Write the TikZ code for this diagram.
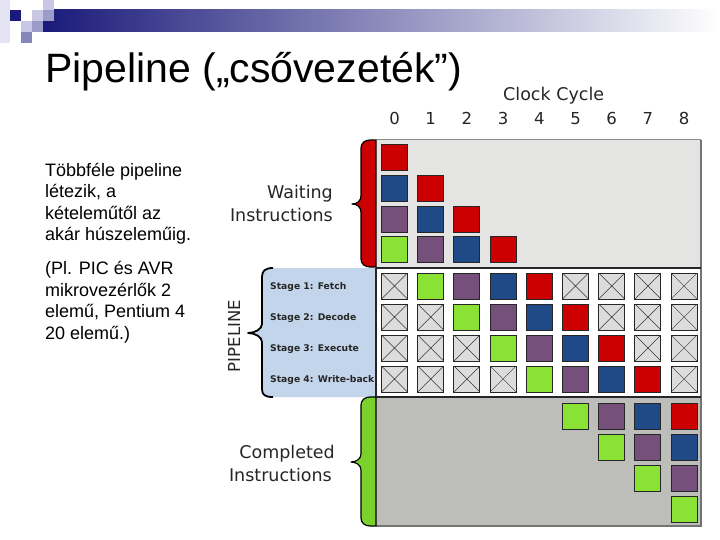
\documentclass[tikz,border=0pt]{standalone}
\usepackage{fontspec}
\setmainfont{Liberation Sans}
\newfontfamily\dejavu{DejaVu Sans}
\definecolor{tred}{HTML}{CC0000}
\definecolor{tblue}{HTML}{204A87}
\definecolor{tpurple}{HTML}{75507B}
\definecolor{tgreen}{HTML}{8AE234}
\definecolor{bgreen}{HTML}{7BD12B}
\definecolor{navy}{HTML}{1A1A7A}
\definecolor{lav1}{HTML}{E4E4F2}
\definecolor{lav2}{HTML}{C8C8E6}
\definecolor{lav3}{HTML}{9C9CCA}
\definecolor{lav4}{HTML}{8686BC}
\definecolor{wgray}{HTML}{E4E4E2}
\definecolor{cgray}{HTML}{BDBEB9}
\definecolor{lblue}{HTML}{C3D5EA}
\definecolor{xgray}{HTML}{DCDCDC}
\begin{document}
\begin{tikzpicture}[x=1pt,y=-1pt,
  sq/.style={draw=black!85, line width=0.9pt, minimum size=26pt, inner sep=0pt, outer sep=0pt},
  xbox/.style={sq, fill=xgray, path picture={\draw[black!80, line width=0.5pt]
      (path picture bounding box.north west) -- (path picture bounding box.south east)
      (path picture bounding box.north east) -- (path picture bounding box.south west);}},
  body/.style={anchor=base west, inner sep=0pt, font=\fontsize{18}{21.5}\selectfont},
  lab/.style={anchor=base east, inner sep=0pt, font=\dejavu\fontsize{17.5}{21}\selectfont, text=black!85},
  stagelab/.style={anchor=base west, inner sep=0pt, font=\dejavu\bfseries\fontsize{9.2}{11}\selectfont, text=black!85},
  num/.style={anchor=base, inner sep=0pt, font=\dejavu\fontsize{16.5}{20}\selectfont, text=black!85}]
\useasboundingbox (0,0) rectangle (720,540);
\fill[white] (0,0) rectangle (720,540);
% top decoration
\shade[left color=navy, right color=white] (43,10) rectangle (720,32);
\fill[lav1] (0,0) rectangle (10,43);
\fill[navy] (10,10) rectangle (21,21);
\fill[lav2] (21,21) rectangle (32,32);
\fill[lav4] (21,32) rectangle (32,43);
\fill[lav2] (32,10) rectangle (43,21);
\fill[lav3] (32,21) rectangle (43,32);
\fill[lav2] (43,0) rectangle (54,10);
\fill[lav3] (43,10) rectangle (54,21);
% title
\node[anchor=base west, inner sep=0pt, font=\fontsize{41}{48}\selectfont] (title) at (45,83) {Pipeline („csővezeték”)};
% left text
\node[body] (t1) at (45,176.5) {Többféle pipeline};
\node[body] (t2) at (45,197.5) {létezik, a};
\node[body] (t3) at (45,219) {kételeműtől az};
\node[body] (t4) at (45,240.5) {akár húszeleműig.};
\node[body] (t5) at (45,274.5) {(Pl. PIC és AVR};
\node[body] (t6) at (45,296) {mikrovezérlők 2};
\node[body] (t7) at (45,317.5) {elemű, Pentium 4};
\node[body] (t8) at (45,339) {20 elemű.)};
% panels
\fill[wgray] (376,140) rectangle (701,268);
\fill[white] (376,268) rectangle (701,397);
\fill[cgray] (376,397) rectangle (701,526);
\draw[black!45, line width=1pt] (376,140) -- (701,140);
\draw[black!55, line width=1.6pt] (701,140) -- (701,526) -- (376,526);
\draw[black!85, line width=1.5pt] (376,268) -- (701,268);
\draw[black!85, line width=1.5pt] (376,397) -- (701,397);
% pipeline label panel and brace
\fill[lblue] (273,268) .. controls (265,268) and (262,271) .. (262,277) -- (262,324)
  .. controls (262,329) and (255,333) .. (248,333) .. controls (255,333) and (262,337) .. (262,342)
  -- (262,389) .. controls (262,395) and (265,397) .. (273,397) -- (376,397) -- (376,268) -- cycle;
\draw[black!85, line width=1.2pt] (376,268) -- (376,397);
\draw[black, line width=1.8pt, line join=round] (273,268) .. controls (265,268) and (262,271) .. (262,277) -- (262,324)
  .. controls (262,329) and (255,333) .. (248,333) .. controls (255,333) and (262,337) .. (262,342)
  -- (262,389) .. controls (262,395) and (265,397) .. (273,397);
% waiting brace
\draw[fill=tred, line width=1.2pt, line join=round] (376,140) -- (370,140) .. controls (365,140) and (361,143) .. (361,148)
  -- (361,196) .. controls (361,201) and (357,204) .. (352,204) .. controls (357,204) and (361,207) .. (361,212)
  -- (361,259) .. controls (361,264) and (365,267) .. (370,267) -- (376,267) -- cycle;
% completed brace
\draw[fill=bgreen, line width=1.2pt, line join=round] (376,397) -- (370,397) .. controls (365,397) and (361,400) .. (361,405)
  -- (361,454) .. controls (361,459) and (356,462) .. (351,462) .. controls (356,462) and (361,465) .. (361,470)
  -- (361,518) .. controls (361,523) and (365,526) .. (370,526) -- (376,526) -- cycle;
% labels
\node[lab] (wa1) at (333,199) {Waiting};
\node[lab] (wa2) at (333,222) {Instructions};
\node[lab] (co1) at (335,458) {Completed};
\node[lab] (co2) at (332,481) {Instructions};
\node[anchor=base west, inner sep=0pt, font=\dejavu\fontsize{17.5}{21}\selectfont, text=black!85] (clk) at (503,101) {Clock Cycle};
\foreach \c in {0,...,8} \node[num] (n\c) at (394.5+36.2*\c,125) {\c};
\node[stagelab] (s1) at (270,289.5) {Stage 1: Fetch};
\node[stagelab] (s2) at (270,320.5) {Stage 2: Decode};
\node[stagelab] (s3) at (270,351.5) {Stage 3: Execute};
\node[stagelab] (s4) at (270,382.5) {Stage 4: Write-back};
\node[rotate=90, inner sep=0pt, font=\dejavu\fontsize{16.5}{20}\selectfont, text=black!85] (pl) at (234,336) {PIPELINE};
% waiting squares
\foreach \c/\r/\col in {0/0/tred, 0/1/tblue, 1/1/tred, 0/2/tpurple, 1/2/tblue, 2/2/tred, 0/3/tgreen, 1/3/tpurple, 2/3/tblue, 3/3/tred}
  \node[sq, fill=\col] (w\r-\c) at (394.5+36.2*\c, 157.5+30.8*\r) {};
% pipeline squares
\foreach \s in {0,...,3}{
  \foreach \c in {0,...,8}{
    \pgfmathtruncatemacro\ii{\c-1-\s}
    \ifnum\ii<0 \def\cn{x}\else\ifnum\ii>3 \def\cn{x}\else
      \ifcase\ii\def\cn{tgreen}\or\def\cn{tpurple}\or\def\cn{tblue}\or\def\cn{tred}\fi\fi\fi
    \def\xx{x}
    \ifx\cn\xx
      \node[xbox] (p\s-\c) at (394.5+36.2*\c, 286+31*\s) {};
    \else
      \node[sq, fill=\cn] (p\s-\c) at (394.5+36.2*\c, 286+31*\s) {};
    \fi
  }
}
% completed squares
\foreach \c/\r/\col in {5/0/tgreen, 6/0/tpurple, 7/0/tblue, 8/0/tred, 6/1/tgreen, 7/1/tpurple, 8/1/tblue, 7/2/tgreen, 8/2/tpurple, 8/3/tgreen}
  \node[sq, fill=\col] (c\r-\c) at (394.5+36.2*\c, 416+31*\r) {};
\end{tikzpicture}
\end{document}
